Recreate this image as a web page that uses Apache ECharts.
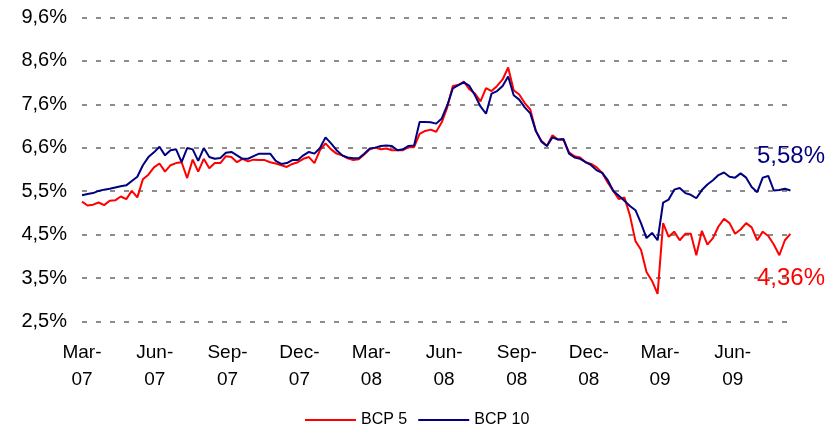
<!DOCTYPE html>
<html><head><meta charset="utf-8">
<script src="https://cdn.jsdelivr.net/npm/echarts@6/dist/echarts.min.js"></script>
<style>html,body{margin:0;padding:0;background:#fff}#c{width:838px;height:427px}</style>
</head><body><div id="c"></div>
<script>
// Weekly samples starting 1 March 2007
const START_DATE = '2007-03-01';
const STEP_DAYS = 7;

const bcp5 = [
  5.30, 5.21, 5.23, 5.28, 5.22, 5.32, 5.33, 5.42, 5.36, 5.55,
  5.40, 5.82, 5.93, 6.10, 6.19, 6.00, 6.15, 6.20, 6.22, 5.85,
  6.28, 6.00, 6.30, 6.08, 6.20, 6.20, 6.36, 6.34, 6.22, 6.30,
  6.24, 6.28, 6.27, 6.27, 6.22, 6.19, 6.15, 6.11, 6.18, 6.22,
  6.30, 6.34, 6.20, 6.50, 6.66, 6.52, 6.42, 6.38, 6.31, 6.27,
  6.29, 6.40, 6.52, 6.56, 6.52, 6.54, 6.50, 6.50, 6.50, 6.57,
  6.57, 6.88, 6.95, 6.98, 6.93, 7.15, 7.50, 8.00, 8.02, 8.10,
  7.92, 7.82, 7.64, 7.95, 7.88, 8.00, 8.15, 8.43, 7.90, 7.80,
  7.60, 7.45, 6.95, 6.72, 6.60, 6.85, 6.75, 6.74, 6.45, 6.36,
  6.33, 6.22, 6.18, 6.10, 5.97, 5.74, 5.55, 5.36, 5.40, 4.98,
  4.38, 4.18, 3.66, 3.45, 3.15, 4.80, 4.48, 4.60, 4.40, 4.55,
  4.55, 4.05, 4.62, 4.30, 4.45, 4.72, 4.90, 4.80, 4.55, 4.65,
  4.80, 4.70, 4.40, 4.60, 4.50, 4.30, 4.05, 4.40, 4.55
];
const bcp10 = [
  5.45, 5.48, 5.50, 5.55, 5.58, 5.60, 5.63, 5.66, 5.68, 5.78,
  5.88, 6.15, 6.34, 6.45, 6.58, 6.38, 6.50, 6.52, 6.22, 6.55,
  6.52, 6.25, 6.55, 6.34, 6.30, 6.32, 6.44, 6.46, 6.38, 6.30,
  6.30, 6.36, 6.42, 6.42, 6.42, 6.25, 6.18, 6.20, 6.27, 6.27,
  6.38, 6.46, 6.42, 6.55, 6.80, 6.66, 6.50, 6.38, 6.33, 6.31,
  6.31, 6.42, 6.54, 6.56, 6.60, 6.61, 6.60, 6.50, 6.52, 6.60,
  6.61, 7.16, 7.16, 7.15, 7.12, 7.24, 7.55, 7.94, 8.02, 8.08,
  8.00, 7.78, 7.52, 7.35, 7.82, 7.88, 8.00, 8.22, 7.78, 7.68,
  7.50, 7.36, 6.95, 6.70, 6.60, 6.80, 6.75, 6.76, 6.42, 6.33,
  6.30, 6.22, 6.15, 6.03, 5.97, 5.80, 5.55, 5.44, 5.32, 5.20,
  5.10, 4.80, 4.45, 4.57, 4.40, 5.28, 5.35, 5.58, 5.62, 5.50,
  5.46, 5.38, 5.57, 5.70, 5.80, 5.92, 5.98, 5.88, 5.86, 5.96,
  5.86, 5.64, 5.52, 5.86, 5.90, 5.56, 5.57, 5.60, 5.56
];

const xTickDates = ['2007-03-01','2007-06-01','2007-09-01','2007-12-01','2008-03-01',
                    '2008-06-01','2008-09-01','2008-12-01','2009-03-01','2009-06-01'];
const xTickLabels = ['Mar-\n07','Jun-\n07','Sep-\n07','Dec-\n07','Mar-\n08',
                     'Jun-\n08','Sep-\n08','Dec-\n08','Mar-\n09','Jun-\n09'];
const yTickLabels = ['2,5%','3,5%','4,5%','5,5%','6,6%','7,6%','8,6%','9,6%'];
const X_MIN = '2007-03-01', X_MAX = '2009-08-15';
const Y_MIN = 2.5, Y_MAX = 9.6;
const endLabel5 = '4,36%', endLabel10 = '5,58%';

function toTime(s, addDays) {
  const p = s.split('-').map(Number);
  return Date.UTC(p[0], p[1] - 1, p[2] + (addDays || 0));
}
const sampleTimes = bcp5.map((_, i) => toTime(START_DATE, i * STEP_DAYS));
const tickTimes = xTickDates.map(d => toTime(d));
const yInterval = (Y_MAX - Y_MIN) / (yTickLabels.length - 1);

const FONT = '"Liberation Sans", Arial, sans-serif';
const chart = echarts.init(document.getElementById('c'), null, {renderer: 'canvas'});
chart.setOption({
  animation: false,
  backgroundColor: '#ffffff',
  grid: {left: 82, right: 46, top: 17.3, bottom: 105.3, containLabel: false, outerBoundsMode: 'none'},
  xAxis: {
    type: 'value',
    min: toTime(X_MIN), max: toTime(X_MAX),
    axisLine: {show: false}, axisTick: {show: false}, splitLine: {show: false},
    axisLabel: {
      customValues: tickTimes,
      formatter: function (v) {
        let best = 0, bd = Infinity;
        tickTimes.forEach((t, i) => { const d = Math.abs(t - v); if (d < bd) { bd = d; best = i; } });
        return xTickLabels[best];
      },
      color: '#000', fontSize: 19, lineHeight: 27, margin: 18, fontFamily: FONT,
      hideOverlap: false
    }
  },
  yAxis: {
    type: 'value', min: Y_MIN, max: Y_MAX, interval: yInterval,
    axisLine: {show: false}, axisTick: {show: false},
    axisLabel: {
      formatter: function (v) { return yTickLabels[Math.round((v - Y_MIN) / yInterval)] || ''; },
      color: '#000', fontSize: 20, margin: 15, fontFamily: FONT
    },
    splitLine: {show: true, lineStyle: {color: '#8c8c8c', width: 2, type: [5, 9]}}
  },
  legend: {
    left: 305, top: 412, padding: 0, icon: 'rect', itemWidth: 51, itemHeight: 2, itemGap: 11,
    textStyle: {fontSize: 16, color: '#000', fontFamily: FONT},
    data: ['BCP 5', 'BCP 10']
  },
  series: [
    {name: 'BCP 5', type: 'line', symbol: 'none', showSymbol: false,
     itemStyle: {color: '#ff0000'}, lineStyle: {color: '#ff0000', width: 2},
     data: sampleTimes.map((t, i) => [t, bcp5[i]])},
    {name: 'BCP 10', type: 'line', symbol: 'none', showSymbol: false,
     itemStyle: {color: '#000080'}, lineStyle: {color: '#000080', width: 2},
     data: sampleTimes.map((t, i) => [t, bcp10[i]])}
  ],
  graphic: [
    {type: 'text', x: 757, y: 156, style: {text: endLabel10, fill: '#000080', font: '24px ' + FONT, verticalAlign: 'middle'}},
    {type: 'text', x: 757, y: 278, style: {text: endLabel5, fill: '#ff0000', font: '24px ' + FONT, verticalAlign: 'middle'}}
  ]
});
</script></body></html>
